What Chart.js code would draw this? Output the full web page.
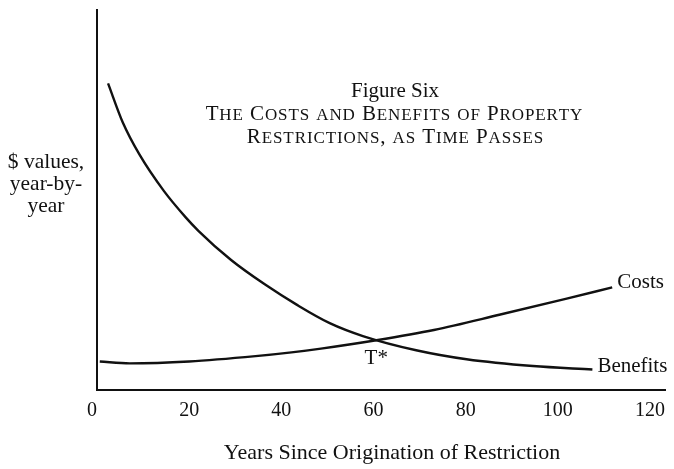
<!DOCTYPE html>
<html>
<head>
<meta charset="utf-8">
<script src="https://cdn.jsdelivr.net/npm/chart.js@4.4.0/dist/chart.umd.min.js"></script>
<style>
  html, body { margin: 0; padding: 0; background: #fff; }
  #wrap { width: 674px; height: 469px; }
</style>
</head>
<body>
<div id="wrap"><canvas id="figureCanvas" width="674" height="469"></canvas></div>
<script>
// values (x = years, y = arbitrary $ units, axis 0..100)
const costYears = [0.6, 7.1, 20, 34.4, 42.2, 48.6, 60.6, 73.1, 87.3, 101.7, 111.8];
const costValues = [7.5, 7.0, 7.5, 8.9, 9.9, 10.9, 13.1, 15.8, 19.8, 24.0, 27.0];
const benefitYears = [2.4, 5.6, 9.2, 14.5, 19.2, 22.0, 29.1, 36.4, 43.4, 50.5, 57.7, 69.5, 80.2, 94.6, 107.5];
const benefitValues = [80.7, 70.4, 62.0, 52.4, 45.5, 41.9, 34.2, 27.8, 22.4, 17.6, 14.2, 10.4, 8.1, 6.3, 5.4];
const xTicks = [0, 20, 40, 60, 80, 100, 120];
const seriesNames = ['Costs', 'Benefits'];
const crossing = { year: 60.6, value: 13.1, label: 'T*' };
const titleLines = ['Figure Six', 'The Costs and Benefits of Property', 'Restrictions, as Time Passes'];
const yLabelLines = ['$ values,', 'year-by-', 'year'];
const xTitle = 'Years Since Origination of Restriction';

const FONT = '"Liberation Serif", "Times New Roman", serif';
const INK = '#111';

function toPoints(xs, ys) {
  return xs.map((x, i) => ({ x: x, y: ys[i] }));
}

// small caps by hand: capitals at full size, lower case drawn as smaller capitals
function drawSmallCaps(ctx, text, cx, baseline, size, track) {
  const small = Math.round(size * 0.8);
  const chars = [];
  for (const ch of text) {
    const isSmall = /[a-z]/.test(ch);
    chars.push({ t: isSmall ? ch.toUpperCase() : ch, size: isSmall ? small : size });
  }
  let total = 0;
  chars.forEach(c => {
    ctx.font = c.size + 'px ' + FONT;
    c.w = ctx.measureText(c.t).width + track;
    total += c.w;
  });
  total -= track;
  let x = cx - total / 2;
  ctx.textAlign = 'left';
  chars.forEach(c => {
    ctx.font = c.size + 'px ' + FONT;
    ctx.fillText(c.t, x, baseline);
    x += c.w;
  });
}

const textPlugin = {
  id: 'figureText',
  afterDraw(chart) {
    const { ctx } = chart;
    const xs = chart.scales.x, ys = chart.scales.y;
    ctx.save();
    ctx.fillStyle = INK;
    ctx.textBaseline = 'alphabetic';

    // title inside plot
    ctx.textAlign = 'center';
    ctx.font = '21px ' + FONT;
    ctx.fillText(titleLines[0], 395, 97);
    drawSmallCaps(ctx, titleLines[1], 394, 120, 21, 0.9);
    drawSmallCaps(ctx, titleLines[2], 395, 143, 21, 0.9);

    // y label
    ctx.textAlign = 'center';
    ctx.font = '21.5px ' + FONT;
    yLabelLines.forEach((t, i) => ctx.fillText(t, 46, 168 + i * 22));

    // x title
    ctx.font = '22px ' + FONT;
    ctx.fillText(xTitle, 392, 459);

    // series end labels
    ctx.font = '21px ' + FONT;
    ctx.textAlign = 'left';
    const cEndX = xs.getPixelForValue(costYears[costYears.length - 1]);
    const cEndY = ys.getPixelForValue(costValues[costValues.length - 1]);
    ctx.fillText(seriesNames[0], cEndX + 5, cEndY + 1);
    const bEndX = xs.getPixelForValue(benefitYears[benefitYears.length - 1]);
    const bEndY = ys.getPixelForValue(benefitValues[benefitValues.length - 1]);
    ctx.fillText(seriesNames[1], bEndX + 5, bEndY + 3);

    // crossing point label
    ctx.textAlign = 'center';
    ctx.fillText(crossing.label, xs.getPixelForValue(crossing.year), ys.getPixelForValue(crossing.value) + 24);
    ctx.restore();
  }
};

new Chart(document.getElementById('figureCanvas'), {
  type: 'line',
  data: {
    datasets: [
      {
        label: seriesNames[0],
        data: toPoints(costYears, costValues),
        borderColor: INK,
        borderWidth: 2.4,
        pointRadius: 0,
        cubicInterpolationMode: 'monotone',
        fill: false
      },
      {
        label: seriesNames[1],
        data: toPoints(benefitYears, benefitValues),
        borderColor: INK,
        borderWidth: 2.4,
        pointRadius: 0,
        cubicInterpolationMode: 'monotone',
        fill: false
      }
    ]
  },
  options: {
    responsive: false,
    animation: false,
    events: [],
    layout: { padding: { left: 97, right: 0, top: 10, bottom: 37 } },
    plugins: {
      legend: { display: false },
      title: { display: false },
      tooltip: { enabled: false }
    },
    scales: {
      x: {
        type: 'linear',
        min: 0,
        max: 123.4,
        grid: { display: false, drawTicks: false },
        border: { display: true, color: INK, width: 2 },
        afterBuildTicks: scale => { scale.ticks = xTicks.map(v => ({ value: v })); },
        ticks: {
          color: INK,
          padding: 9,
          maxRotation: 0,
          autoSkip: false,
          font: { family: FONT, size: 20 },
          // the zero sits a little left of the axis in the original
          callback: v => (v === 0 ? '0\u2002' : String(v))
        }
      },
      y: {
        type: 'linear',
        min: 0,
        max: 100,
        grid: { display: false, drawTicks: false },
        border: { display: true, color: INK, width: 2 },
        ticks: { display: false }
      }
    }
  },
  plugins: [textPlugin]
});
</script>
</body>
</html>
